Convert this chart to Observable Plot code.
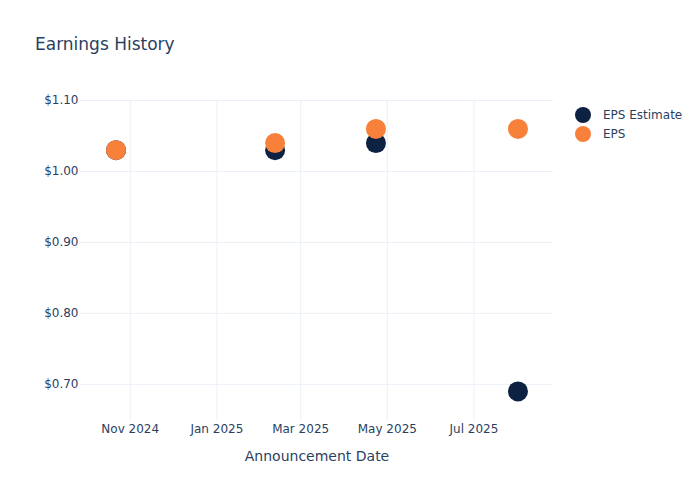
<!DOCTYPE html>
<html>
<head>
<meta charset="utf-8">
<script src="https://cdn.jsdelivr.net/npm/d3@7"></script>
<script src="https://cdn.jsdelivr.net/npm/@observablehq/plot@0.6"></script>
<style>
  body { margin: 0; background: #fff; font-family: "DejaVu Sans", sans-serif; }
  #wrap { position: relative; width: 700px; }
  #title { height: 70px; box-sizing: border-box; padding: 34px 0 0 35px; font-size: 17px; color: #2a3f5f; line-height: 20px; }
  #legend { position: absolute; left: 575px; top: 105px; font-size: 12px; color: #2a3f5f; }
  .item { display: flex; align-items: center; height: 19px; }
  .sw { width: 16px; height: 16px; border-radius: 50%; margin-right: 12px; }
</style>
</head>
<body>
<div id="wrap">
  <div id="title">Earnings History</div>
  <div id="chart"></div>
  <div id="legend"></div>
</div>
<script>
const dates = ["2024-10-22", "2025-02-11", "2025-04-23", "2025-08-01"];
const epsEstimate = [1.03, 1.03, 1.04, 0.69];
const eps = [1.03, 1.04, 1.06, 1.06];
const seriesNames = ["EPS Estimate", "EPS"];
const seriesColors = ["#0d2142", "#f7813a"];
const xTicks = ["2024-11-01", "2025-01-01", "2025-03-01", "2025-05-01", "2025-07-01"];
const yTicks = [0.7, 0.8, 0.9, 1.0, 1.1];
const xLabel = "Announcement Date";

const parse = d3.utcParse("%Y-%m-%d");
const rows = [];
dates.forEach((d, i) => {
  rows.push({date: parse(d), value: epsEstimate[i], series: seriesNames[0]});
});
dates.forEach((d, i) => {
  rows.push({date: parse(d), value: eps[i], series: seriesNames[1]});
});

const chart = Plot.plot({
  width: 700,
  height: 430,
  marginLeft: 80,
  marginRight: 147,
  marginTop: 30,
  marginBottom: 80,
  style: {fontFamily: "DejaVu Sans, sans-serif", fontSize: "12px", color: "#2a3f5f", background: "#fff"},
  x: {type: "utc", domain: [parse("2024-09-27"), parse("2025-08-26")]},
  y: {domain: [0.649, 1.1]},
  color: {domain: seriesNames, range: seriesColors},
  marks: [
    Plot.gridX(xTicks.map(parse), {stroke: "#ebf0f8", strokeOpacity: 1}),
    Plot.gridY(yTicks, {stroke: "#ebf0f8", strokeOpacity: 1}),
    Plot.axisX(xTicks.map(parse), {tickSize: 0, tickPadding: 4, tickFormat: d3.utcFormat("%b %Y"), label: xLabel, labelArrow: "none", labelAnchor: "center", labelOffset: 40, fontSize: 12, fill: "#2a3f5f"}),
    Plot.axisY(yTicks, {tickSize: 0, tickPadding: 2, tickFormat: d => "$" + d.toFixed(2), label: null, fontSize: 12, fill: "#2a3f5f"}),
    Plot.dot(rows, {x: "date", y: "value", fill: "series", r: 10, stroke: "none"})
  ]
});
// style axis label (and strip any arrow)
chart.querySelectorAll("text").forEach(t => {
  if (t.textContent.startsWith(xLabel)) {
    t.textContent = xLabel;
    t.setAttribute("font-size", "14");
    t.style.fontSize = "14px";
  }
});
document.getElementById("chart").appendChild(chart);

const legend = document.getElementById("legend");
seriesNames.forEach((n, i) => {
  const it = document.createElement("div");
  it.className = "item";
  const sw = document.createElement("div");
  sw.className = "sw";
  sw.style.background = seriesColors[i];
  const lb = document.createElement("span");
  lb.textContent = n;
  it.appendChild(sw); it.appendChild(lb);
  legend.appendChild(it);
});
</script>
</body>
</html>
